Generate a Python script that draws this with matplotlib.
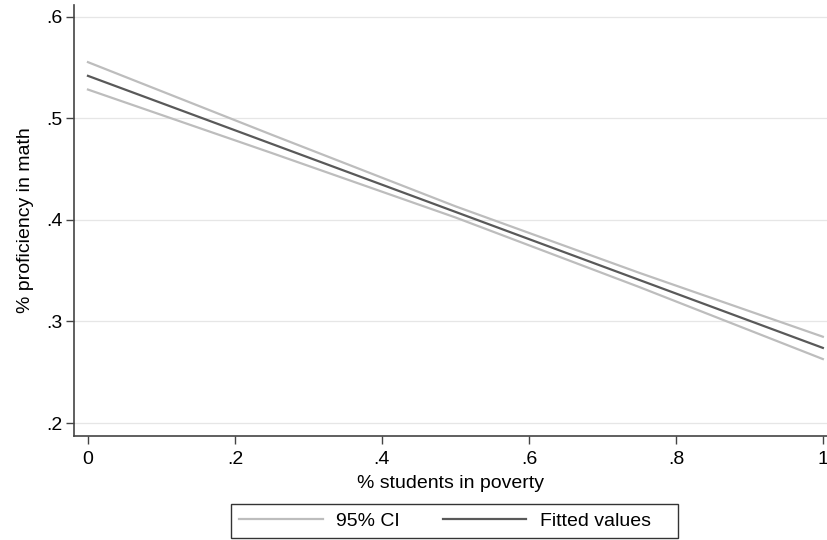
import matplotlib
matplotlib.use("Agg")
import matplotlib.pyplot as plt
from matplotlib.patches import Rectangle

plt.rcParams["font.family"] = ["Liberation Sans", "DejaVu Sans"]

# Predictor grid and fitted regression line with its 95% confidence band
poverty = [0.0, 0.25, 0.5, 0.75, 1.0]
fitted = [0.542, 0.475, 0.408, 0.341, 0.274]
ci_upper = [0.5555, 0.484, 0.4135, 0.348, 0.285]
ci_lower = [0.5285, 0.466, 0.4025, 0.334, 0.263]

xticks = [0, 0.2, 0.4, 0.6, 0.8, 1.0]
xticklabels = ["0", ".2", ".4", ".6", ".8", "1"]
yticks = [0.2, 0.3, 0.4, 0.5, 0.6]
yticklabels = [".2", ".3", ".4", ".5", ".6"]

W, H = 828, 540
FS = 14
fig = plt.figure(figsize=(W / 100, H / 100), dpi=100)
ax = fig.add_axes([74 / W, 1 - 436 / H, (828 - 74) / W, (436 - 5) / H])

ci_color = "#bdbdbd"
fit_color = "#595959"
ax.plot(poverty, ci_upper, color=ci_color, lw=1.6, label="95% CI", zorder=3)
ax.plot(poverty, ci_lower, color=ci_color, lw=1.6, zorder=3)
ax.plot(poverty, fitted, color=fit_color, lw=1.6, label="Fitted values", zorder=4)

ax.set_xlim(-0.019, 1.007)
ax.set_ylim(0.1872, 0.6118)
ax.set_xticks(xticks)
ax.set_xticklabels(xticklabels)
ax.set_yticks(yticks)
ax.set_yticklabels(yticklabels)

for s in ["top", "right"]:
    ax.spines[s].set_visible(False)
for s in ["left", "bottom"]:
    ax.spines[s].set_color("#444444")
    ax.spines[s].set_linewidth(1.2)

ax.tick_params(axis="both", direction="out", length=5.5, width=1.0,
               color="#444444", labelsize=FS, labelcolor="black", pad=2.5)
ax.tick_params(axis="x", pad=5)
ax.grid(axis="y", color="#e6e6e6", lw=0.9, zorder=0)
ax.set_axisbelow(True)

ax.set_xlabel("% students in poverty", fontsize=FS, labelpad=5)
ax.set_ylabel("% proficiency in math", fontsize=FS, labelpad=9)

# key: entries placed without a frame, then a box with extra room on the right
handles, labels = ax.get_legend_handles_labels()
leg = fig.legend(handles, labels, loc="center", ncol=2,
                 bbox_to_anchor=(445 / W, 1 - 521 / H),
                 frameon=False, fontsize=FS, handlelength=4.3,
                 columnspacing=2.2, handletextpad=0.7, borderpad=0.4,
                 borderaxespad=0)

fig.canvas.draw()
bb = leg.get_window_extent()
box = Rectangle((bb.x0 / W, bb.y0 / H), (bb.width + 19) / W, bb.height / H,
                transform=fig.transFigure, fill=False, edgecolor="#333333",
                linewidth=1.0)
fig.patches.append(box)

fig.savefig("out.png", dpi=100, facecolor="white")
